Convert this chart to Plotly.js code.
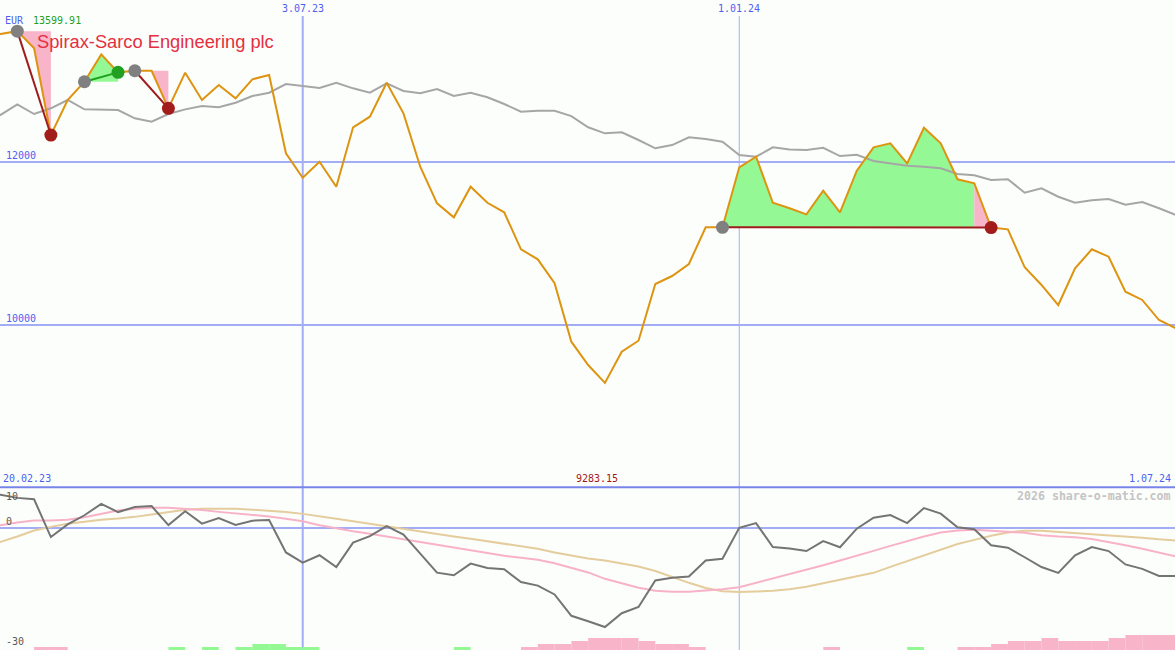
<!DOCTYPE html>
<html><head><meta charset="utf-8">
<script src="https://cdn.plot.ly/plotly-3.0.1.min.js"></script>
<style>html,body{margin:0;padding:0;background:#fcfefc;}#chart{width:1175px;height:650px;}</style>
</head><body><div id="chart"></div>
<script>
const dates = ['2023-02-20','2023-02-27','2023-03-06','2023-03-13','2023-03-20','2023-03-27','2023-04-03','2023-04-10','2023-04-17','2023-04-24',
'2023-05-01','2023-05-08','2023-05-15','2023-05-22','2023-05-29','2023-06-05','2023-06-12','2023-06-19','2023-06-26','2023-07-03',
'2023-07-10','2023-07-17','2023-07-24','2023-07-31','2023-08-07','2023-08-14','2023-08-21','2023-08-28','2023-09-04','2023-09-11',
'2023-09-18','2023-09-25','2023-10-02','2023-10-09','2023-10-16','2023-10-23','2023-10-30','2023-11-06','2023-11-13','2023-11-20',
'2023-11-27','2023-12-04','2023-12-11','2023-12-18','2023-12-25','2024-01-01','2024-01-08','2024-01-15','2024-01-22','2024-01-29',
'2024-02-05','2024-02-12','2024-02-19','2024-02-26','2024-03-04','2024-03-11','2024-03-18','2024-03-25','2024-04-01','2024-04-08',
'2024-04-15','2024-04-22','2024-04-29','2024-05-06','2024-05-13','2024-05-20','2024-05-27','2024-06-03','2024-06-10','2024-06-17',
'2024-06-24','2024-07-01'];

const price = [13575, 13565, 13599.91, 13389, 12325, 12755, 12979, 13315, 13094, 13114,
13114, 12653, 13090, 12755, 12939, 12775, 13009, 13061, 12101, 11801,
11998, 11691, 12420, 12550, 12967, 12591, 11936, 11487, 11315, 11691,
11494, 11377, 10923, 10800, 10506, 9789, 9503, 9283.15, 9666, 9801,
10497, 10595, 10742, 11193, 11193, 11929, 12059, 11494, 11426, 11352,
11642, 11377, 11887, 12174, 12223, 11978, 12415, 12223, 11782, 11733,
11190, 11168, 10702, 10485, 10239, 10690, 10923, 10832, 10402, 10301,
10055, 9953];

const relLine = [12560, 12571, 12702, 12583, 12653, 12755, 12640, 12640, 12632, 12530,
12488, 12583, 12640, 12681, 12665, 12721, 12804, 12844, 12951, 12926,
12902, 12967, 12898, 12844, 12960, 12865, 12837, 12890, 12804, 12844,
12788, 12706, 12611, 12623, 12623, 12558, 12420, 12346, 12358, 12264,
12162, 12202, 12297, 12276, 12243, 12080, 12059, 12174, 12147, 12141,
12169, 12067, 12083, 12006, 11978, 11948, 11936, 11917, 11847, 11831,
11773, 11782, 11617, 11671, 11568, 11494, 11524, 11540, 11470, 11503,
11426, 11344];

const momentum = [8.6, 8.35, 7.55, 7.2, -2.25, 0.9, 3.2, 6.05, 4.0, 5.25,
5.5, 0.75, 4.2, 1.1, 2.5, 0.8, 1.85, 2.0, -6.1, -8.65,
-6.8, -9.75, -3.65, -2.0, 0.5, -1.65, -6.4, -11.15, -11.8, -8.9,
-10.0, -10.3, -13.5, -14.4, -16.6, -21.95, -23.3, -24.75, -21.3, -19.75,
-13.1, -12.45, -12.1, -8.1, -7.7, 0.05, 1.25, -4.75, -5.1, -5.75,
-3.25, -4.8, -0.15, 2.6, 3.25, 1.25, 5.0, 3.6, 0.2, -0.3,
-4.3, -4.9, -7.3, -9.75, -11.2, -6.8, -4.75, -5.75, -9.1, -10.2,
-12.0, -12.0];

const avgFast = [0.3, 0.7, 1.4, 1.9, 1.9, 2.05, 2.7, 3.6, 4.4, 4.85,
5.1, 5.05, 4.85, 4.5, 4.05, 3.7, 3.4, 2.9, 2.3, 1.7,
0.7, -0.1, -0.8, -1.4, -2.1, -2.7, -3.45, -4.2, -4.9, -5.6,
-6.3, -6.95, -7.45, -7.95, -8.8, -9.95, -11.1, -12.7, -13.8, -14.95,
-15.7, -15.95, -15.95, -15.7, -15.3, -14.8, -13.7, -12.6, -11.6, -10.4,
-9.3, -8.1, -6.95, -5.7, -4.45, -3.2, -2.1, -1.1, -0.6, -0.4,
-0.6, -0.95, -1.2, -1.8, -2.1, -2.3, -2.75, -3.5, -4.3, -5.2,
-6.1, -7.1];

const avgSlow = [-5.0, -3.45, -2.1, -0.6, 0.3, 1.1, 1.6, 2.1, 2.4, 2.8,
3.4, 4.05, 4.55, 4.85, 4.85, 4.8, 4.6, 4.35, 4.0, 3.55,
2.85, 2.3, 1.7, 1.05, 0.4, -0.2, -0.8, -1.45, -2.1, -2.65,
-3.3, -3.9, -4.5, -5.2, -6.1, -6.9, -7.6, -8.1, -8.9, -9.6,
-10.75, -12.25, -13.7, -15.0, -15.8, -16.0, -15.9, -15.7, -15.3, -14.7,
-13.8, -12.95, -12.15, -11.2, -9.7, -8.3, -6.8, -5.4, -4.0, -2.95,
-1.9, -1.1, -0.65, -0.65, -0.95, -1.1, -1.4, -1.75, -2.0, -2.4,
-2.8, -3.1];

const histLevel = [0,0,0,-1,-1,0,0,0,0,0,
0,1,0,1,0,1,2,2,1,1,
0,0,0,0,0,0,0,0,1,0,
0,0,-1,-2,-2,-3,-4,-4,-4,-3,
-2,-2,-1,0,0,0,0,0,0,0,
-1,0,0,0,0,1,0,0,-1,-1,
-2,-3,-3,-4,-3,-3,-3,-4,-5,-5,
-5,0];

// trading signals (indices into the weekly series)
const tradeEntry = [2, 6, 9, 44];
const tradeTop   = [2, 8, 9, 59];
const tradeExit  = [4, 8, 11, 60];

const priceGrid = [10000, 12000];
const lowerTicks = [10, 0, -30];
const markerDates = ['2023-07-03', '2024-01-01'];
const currency = 'EUR';
const titleText = 'Spirax-Sarco Engineering plc';
const watermark = '2026 share-o-matic.com';

const H = 650, W = 1175;
const MONO = 'DejaVu Sans Mono, monospace';
const BLUE_TXT = '#4f5ff0';
const GRID = '#a3adf5';
const GREEN_FILL = '#94f894';
const PINK_FILL = '#f8b4c8';

function fmtDate(s) {
  const [y, m, d] = s.split('-');
  return String(parseInt(d, 10)) + '.' + m + '.' + y.slice(2);
}

const traces = [];
// fills
tradeEntry.forEach((s, i) => {
  const p = tradeTop[i], e = tradeExit[i], base = price[s];
  if (p > s) {
    traces.push({x: dates.slice(s, p + 1).concat([dates[p], dates[s]]),
      y: price.slice(s, p + 1).concat([base, base]),
      type: 'scatter', mode: 'lines', fill: 'toself', fillcolor: GREEN_FILL,
      line: {width: 0, color: GREEN_FILL}, hoverinfo: 'skip'});
  }
  if (e > p) {
    traces.push({x: dates.slice(p, e + 1).concat([dates[e], dates[p]]),
      y: price.slice(p, e + 1).concat([base, base]),
      type: 'scatter', mode: 'lines', fill: 'toself', fillcolor: PINK_FILL,
      line: {width: 0, color: PINK_FILL}, hoverinfo: 'skip'});
  }
});
// comparison line
traces.push({x: dates, y: relLine, type: 'scatter', mode: 'lines',
  line: {color: '#a6a6a6', width: 2}, hoverinfo: 'skip'});
// price
traces.push({x: dates, y: price, type: 'scatter', mode: 'lines',
  line: {color: '#dd9410', width: 2}, hoverinfo: 'skip'});
// trade lines
tradeEntry.forEach((s, i) => {
  const e = tradeExit[i];
  const gain = price[e] > price[s];
  traces.push({x: [dates[s], dates[e]], y: [price[s], price[e]], type: 'scatter', mode: 'lines',
    line: {color: gain ? '#20a020' : '#a01c1c', width: 2}, hoverinfo: 'skip'});
});
// entry dots
traces.push({x: tradeEntry.map(i => dates[i]), y: tradeEntry.map(i => price[i]),
  type: 'scatter', mode: 'markers', marker: {color: '#808080', size: 13}, hoverinfo: 'skip'});
// exit dots
traces.push({x: tradeExit.map(i => dates[i]), y: tradeExit.map(i => price[i]),
  type: 'scatter', mode: 'markers',
  marker: {color: tradeExit.map((e, i) => price[e] > price[tradeEntry[i]] ? '#22a022' : '#a31c1c'), size: 13},
  hoverinfo: 'skip'});

// lower panel
traces.push({x: dates, y: avgSlow, xaxis: 'x', yaxis: 'y2', type: 'scatter', mode: 'lines',
  line: {color: '#e4cc9c', width: 2}, hoverinfo: 'skip'});
traces.push({x: dates, y: avgFast, xaxis: 'x', yaxis: 'y2', type: 'scatter', mode: 'lines',
  line: {color: '#f8b2c8', width: 2}, hoverinfo: 'skip'});
traces.push({x: dates, y: momentum, xaxis: 'x', yaxis: 'y2', type: 'scatter', mode: 'lines',
  line: {color: '#747474', width: 2}, hoverinfo: 'skip'});
traces.push({x: dates, y: histLevel.map(v => Math.abs(v)), xaxis: 'x', yaxis: 'y3', type: 'bar',
  width: 7 * 86400000, offset: 0,
  marker: {color: histLevel.map(v => v > 0 ? '#94f894' : '#f8b4c8'), line: {width: 0}}, hoverinfo: 'skip'});

const maxIdx = price.indexOf(Math.max(...price));
const minIdx = price.indexOf(Math.min(...price));
const py = v => 1 - v / H;
const LOW_TOP = 10.02, LOW_BOT = -30.5;

const annotations = [];
annotations.push({xref: 'paper', yref: 'paper', x: 3 / W, y: py(21), xanchor: 'left', yanchor: 'middle',
  text: currency, showarrow: false, font: {family: MONO, size: 10, color: BLUE_TXT}});
annotations.push({xref: 'paper', yref: 'paper', x: 31 / W, y: py(21), xanchor: 'left', yanchor: 'middle',
  text: price[maxIdx].toFixed(2), showarrow: false, font: {family: MONO, size: 10, color: '#22a022'}});
markerDates.forEach(d => annotations.push({xref: 'x', yref: 'paper', x: d, y: py(9), xanchor: 'center', yanchor: 'middle',
  text: fmtDate(d), showarrow: false, font: {family: MONO, size: 10, color: BLUE_TXT}}));
annotations.push({xref: 'paper', yref: 'paper', x: 1 / W, y: py(478.5), xanchor: 'left', yanchor: 'middle',
  text: fmtDate(dates[0]), showarrow: false, font: {family: MONO, size: 10, color: BLUE_TXT}});
annotations.push({xref: 'x', yref: 'paper', x: dates[minIdx], xshift: -8, y: py(478.5), xanchor: 'center', yanchor: 'middle',
  text: price[minIdx].toFixed(2), showarrow: false, font: {family: MONO, size: 10, color: '#a01818'}});
annotations.push({xref: 'paper', yref: 'paper', x: 1173 / W, y: py(478.5), xanchor: 'right', yanchor: 'middle',
  text: fmtDate(dates[dates.length - 1]), showarrow: false, font: {family: MONO, size: 10, color: BLUE_TXT}});
annotations.push({xref: 'paper', yref: 'paper', x: 1173 / W, y: py(496), xanchor: 'right', yanchor: 'middle',
  text: '<b>' + watermark + '</b>', showarrow: false, font: {family: MONO, size: 11.6, color: '#c4c4c4'}});
priceGrid.forEach(v => annotations.push({xref: 'paper', yref: 'y', x: 4 / W, y: v, xanchor: 'left', yanchor: 'bottom',
  yshift: -1, text: String(v), showarrow: false, font: {family: MONO, size: 10, color: BLUE_TXT}}));
lowerTicks.forEach((v, i) => annotations.push({xref: 'paper', yref: 'y2', x: 4 / W, y: Math.min(v, 9.9),
  xanchor: 'left', yanchor: i === 0 ? 'top' : 'bottom', yshift: -1,
  text: String(v), showarrow: false, font: {family: MONO, size: 10, color: '#5a5a5a'}}));

const shapes = [];
markerDates.forEach((d, i) => shapes.push({type: 'line', xref: 'x', yref: 'paper', x0: d, x1: d,
  y0: 0, y1: py(16), line: {color: GRID, width: i === 0 ? 2 : 1}, layer: 'below'}));
shapes.push({type: 'line', xref: 'paper', yref: 'paper', x0: 0, x1: 1, y0: py(487.2), y1: py(487.2),
  line: {color: '#7884ea', width: 2}, layer: 'above'});

const layout = {
  width: W, height: H, margin: {l: 0, r: 0, t: 0, b: 0, pad: 0},
  paper_bgcolor: '#fcfefc', plot_bgcolor: '#fcfefc', showlegend: false,
  title: {text: titleText, xref: 'paper', yref: 'paper', x: 37 / W, xanchor: 'left', y: py(41.5), yanchor: 'middle',
    font: {family: 'Liberation Sans, Arial, sans-serif', size: 18.3, color: '#e4303f'}},
  xaxis: {type: 'date', range: ['2023-02-26 19:00', '2024-06-30 16:00'], showgrid: false, zeroline: false,
    showticklabels: false, ticks: '', showline: false, fixedrange: true},
  yaxis: {domain: [163 / H, 1], range: [8006, 13982], tickvals: priceGrid, showgrid: true, gridcolor: GRID,
    gridwidth: 2, zeroline: false, showticklabels: false, ticks: '', showline: false},
  yaxis2: {domain: [0, 162 / H], range: [LOW_BOT, LOW_TOP], tickvals: [0], showgrid: true, gridcolor: GRID,
    gridwidth: 2, zeroline: false, showticklabels: false, ticks: '', showline: false},
  yaxis3: {overlaying: 'y2', range: [0, 54], visible: false, showgrid: false, zeroline: false},
  annotations: annotations, shapes: shapes
};

Plotly.newPlot('chart', traces, layout, {staticPlot: true, displayModeBar: false});
</script></body></html>
